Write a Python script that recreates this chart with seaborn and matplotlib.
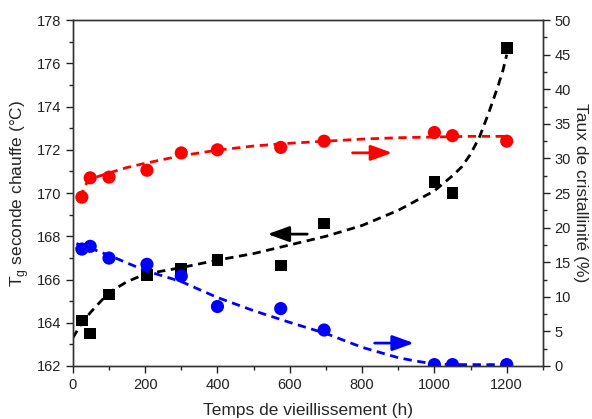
"""Tg and crystallinity vs ageing time."""

import matplotlib.pyplot as plt
import pandas as pd
import seaborn as sns
from matplotlib.ticker import MultipleLocator

sns.set_style("ticks")
plt.rcParams["font.family"] = ["Liberation Sans", "DejaVu Sans"]

# measured points
temps = [25, 48, 100, 205, 300, 400, 575, 695, 1000, 1050, 1200]
tg = [164.1, 163.5, 165.3, 166.2, 166.5, 166.9, 166.65, 168.6, 170.5, 170.0, 176.7]
xc_rouge = [24.4, 27.2, 27.3, 28.3, 30.8, 31.25, 31.6, 32.5, 33.75, 33.3, 32.5]
xc_bleu = [16.9, 17.3, 15.6, 14.7, 13.0, 8.6, 8.3, 5.2, 0.2, 0.2, 0.2]

# fitted curves
fit_tg_x = [0, 25, 50, 100, 150, 200, 300, 400, 500, 600, 700, 800, 900,
            1000, 1050, 1075, 1100, 1125, 1150, 1175, 1190, 1200]
fit_tg_y = [163.3, 164.0, 164.5, 165.4, 165.9, 166.25, 166.55, 166.9, 167.2,
            167.6, 168.0, 168.5, 169.2, 170.1, 170.8, 171.2, 171.8, 172.6,
            173.7, 174.9, 175.7, 176.4]
fit_rouge_x = [22, 30, 40, 50, 70, 100, 150, 200, 300, 400, 500, 600, 700,
               800, 900, 1000, 1100, 1200]
fit_rouge_y = [24.3, 25.6, 26.6, 27.0, 27.4, 27.9, 28.7, 29.3, 30.4, 31.2,
               31.8, 32.2, 32.5, 32.8, 33.0, 33.1, 33.2, 33.2]
fit_bleu_x = [10, 50, 100, 200, 300, 400, 500, 600, 700, 800, 900, 950,
              1000, 1050, 1100, 1200]
fit_bleu_y = [17.7, 17.0, 16.0, 13.8, 12.2, 9.9, 8.0, 6.3, 4.7, 2.7, 1.2, 0.7,
              0.3, 0.2, 0.2, 0.2]

fig = plt.figure(figsize=(5.92, 4.19), dpi=100)
ax = fig.add_axes([0.123, 0.1265, 0.794, 0.8255])
ax2 = ax.twinx()

dash = (0, (3, 2))
sns.lineplot(x=fit_tg_x, y=fit_tg_y, ax=ax, color="black", lw=2, linestyle=dash)
sns.scatterplot(x=temps, y=tg, ax=ax, color="black", marker="s", s=70,
                edgecolor="none", zorder=3)

sns.lineplot(x=fit_rouge_x, y=fit_rouge_y, ax=ax2, color="#ff0000", lw=2, linestyle=dash)
sns.scatterplot(x=temps, y=xc_rouge, ax=ax2, color="#ff0000", marker="o", s=90,
                edgecolor="none", zorder=3)
sns.lineplot(x=fit_bleu_x, y=fit_bleu_y, ax=ax2, color="#0000ff", lw=2, linestyle=dash)
sns.scatterplot(x=temps, y=xc_bleu, ax=ax2, color="#0000ff", marker="o", s=90,
                edgecolor="none", zorder=3)

# direction arrows
arrow = dict(arrowstyle="-|>,head_length=1.3,head_width=0.47", lw=2)
ax.annotate("", xy=(531, 168.1), xytext=(656, 168.1),
            arrowprops=dict(arrow, color="black"))
ax.annotate("", xy=(891, 171.86), xytext=(766, 171.86),
            arrowprops=dict(arrow, color="#ff0000"))
ax.annotate("", xy=(951, 163.06), xytext=(827, 163.06),
            arrowprops=dict(arrow, color="#0000ff"))

ax.set_xlim(0, 1300)
ax.set_ylim(162, 178)
ax2.set_ylim(0, 50)
ax.xaxis.set_major_locator(MultipleLocator(200))
ax.xaxis.set_minor_locator(MultipleLocator(100))
ax.yaxis.set_major_locator(MultipleLocator(2))
ax.yaxis.set_minor_locator(MultipleLocator(1))
ax2.yaxis.set_major_locator(MultipleLocator(5))
ax2.yaxis.set_minor_locator(MultipleLocator(2.5))

for a in (ax, ax2):
    a.tick_params(which="major", length=5, width=1, labelsize=10.5, colors="#222222",
                  direction="out")
    a.tick_params(which="minor", length=3, width=1, direction="out")
    for s in a.spines.values():
        s.set_visible(True)
        s.set_linewidth(1)
        s.set_color("#333333")

ax.set_xlabel("Temps de vieillissement (h)", fontsize=12.5, labelpad=8)
ax.set_ylabel("T$_\\mathregular{g}$ seconde chauffe (°C)", fontsize=12.5, labelpad=4)
ax2.set_ylabel("Taux de cristallinité (%)", fontsize=12.5, rotation=270, labelpad=12)

fig.savefig("out.png", dpi=100)
